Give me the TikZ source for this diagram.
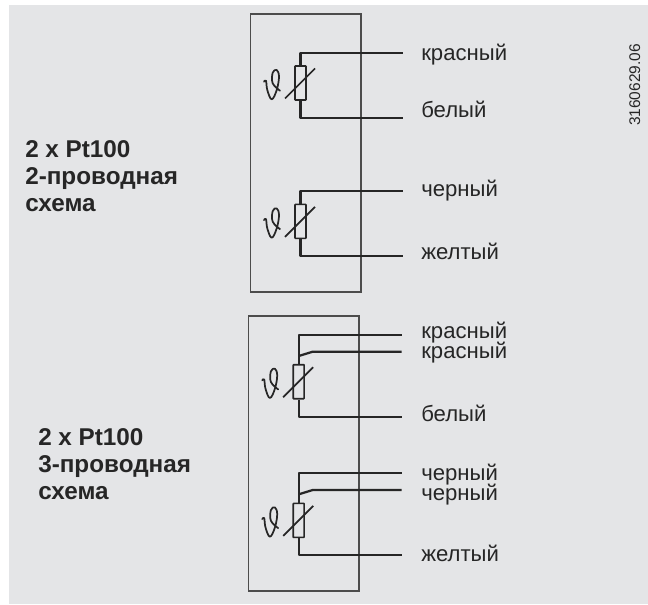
\documentclass[tikz,border=0pt]{standalone}
\usepackage{fontspec}
\setmainfont{Liberation Sans}
\tikzset{
  x=0.75pt,y=-0.75pt,
  frame/.style={draw=black!70,line width=0.8pt},
  wire/.style={draw=black!85,line width=1.7pt,line join=round},
  rtd/.style={draw=black!85,line width=1.2pt,fill=none,minimum width=8.2pt,minimum height=25.5pt,inner sep=0pt,rounded corners=0.4pt},
  slash/.style={draw=black!85,line width=1.3pt},
  lbl/.style={anchor=base west,inner sep=0pt,font=\fontsize{16.6}{18}\selectfont,text=black!85},
  head/.style={anchor=north west,inner sep=0pt,align=left,font=\fontsize{18.2}{20.25}\selectfont\bfseries,text=black!85},
}
% #1 prefix, #2 wire x, #3 top wire y, #4 resistor centre y, #5 bottom wire y, #6 end x
\newcommand{\rtdsym}[6]{%
  \node[rtd] (#1r) at (#2,#4) {};
  \coordinate (#1a) at (#2,#3);
  \coordinate (#1b) at (#2,#5);
  \coordinate (#1ae) at (#6,#3);
  \coordinate (#1be) at (#6,#5);
  \draw[wire] (#1r.north) -- (#1a) -- (#1ae);
  \draw[wire] (#1r.south) -- (#1b) -- (#1be);
  \begin{scope}[shift={(#1r.center)}]
  \draw[slash] (-15.5,15.5) -- (14.5,-14.5);
  \draw[slash,line cap=round,line join=round] plot[smooth,tension=0.65] coordinates {
    (-36.5,-1.3) (-34.5,-2.3) (-33.2,7) (-28.8,16.3) (-23.8,7) (-21.5,-6.3)
    (-23.8,-13) (-27.8,-10.3) (-27.8,0.3) (-20.5,7.7)};
  \end{scope}
}
\begin{document}
\begin{tikzpicture}
\useasboundingbox (0,0) rectangle (648,604);
\fill[fill={rgb,255:red,228;green,229;blue,231}] (9,5) rectangle (648,604);
\draw[frame] (250.5,14) rectangle (361,292);
\draw[frame] (248.5,316) rectangle (359,591);

\rtdsym{A}{300.5}{53}{83}{118}{403}
\rtdsym{B}{300.5}{191.3}{221.4}{256.3}{403}
\rtdsym{C}{298.7}{334.7}{381.7}{417}{401.7}
\rtdsym{D}{298.7}{473}{520.4}{555.3}{401.7}

\coordinate (Cs) at (298.7,356);
\coordinate (Ck) at (312.7,351.7);
\coordinate (Ce) at (401.7,351.7);
\draw[wire] (Cs) -- (Ck) -- (Ce);
\coordinate (Ds) at (298.7,494.3);
\coordinate (Dk) at (312.7,490);
\coordinate (De) at (401.7,490);
\draw[wire] (Ds) -- (Dk) -- (De);

\node[lbl] (l1) at (421,60) {красный};
\node[lbl] (l2) at (421,117) {белый};
\node[lbl] (l3) at (421,196) {черный};
\node[lbl] (l4) at (421,259) {желтый};
\node[lbl] (l5) at (421,338) {красный};
\node[lbl] (l6) at (421,358) {красный};
\node[lbl] (l7) at (421,421) {белый};
\node[lbl] (l8) at (421,480) {черный};
\node[lbl] (l9) at (421,500) {черный};
\node[lbl] (l10) at (421,561) {желтый};

\node[head] (h1) at (25,139.8) {2 x Pt100\\2-проводная\\схема};
\node[head] (h2) at (38,428.5) {2 x Pt100\\3-проводная\\схема};

\node[anchor=base,inner sep=0pt,rotate=90,font=\fontsize{11.6}{14}\selectfont,text=black!85] (code) at (640,85) {3160629.06};
\end{tikzpicture}
\end{document}
